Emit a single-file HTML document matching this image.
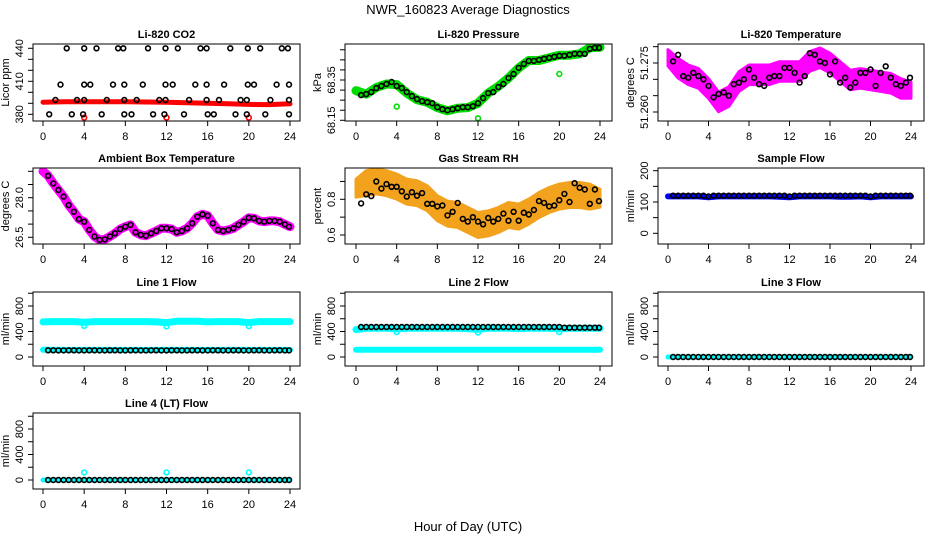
<!DOCTYPE html>
<html><head><meta charset="utf-8">
<style>
html,body{margin:0;padding:0;background:#fff;}
svg{display:block;font-family:"Liberation Sans",Arial,sans-serif;}
</style></head>
<body>
<svg id="chart" width="936" height="540" viewBox="0 0 936 540" xmlns="http://www.w3.org/2000/svg">
<text x="468" y="14" text-anchor="middle" font-size="13">NWR_160823  Average Diagnostics</text>
<text x="468" y="531" text-anchor="middle" font-size="13">Hour of Day (UTC)</text>
</svg>
<script>
// ---------- data ----------
const xTicks = [0,4,8,12,16,20,24];
const halfHours = [0.5,1,1.5,2,2.5,3,3.5,4,4.5,5,5.5,6,6.5,7,7.5,8,8.5,9,9.5,10,10.5,11,11.5,12,12.5,13,13.5,14,14.5,15,15.5,16,16.5,17,17.5,18,18.5,19,19.5,20,20.5,21,21.5,22,22.5,23,23.5,23.9];
const hours = [0,1,2,3,4,5,6,7,8,9,10,11,12,13,14,15,16,17,18,19,20,21,22,23,24];
const halfHoursFrom0 = [0,0.5,1,1.5,2,2.5,3,3.5,4,4.5,5,5.5,6,6.5,7,7.5,8,8.5,9,9.5,10,10.5,11,11.5,12,12.5,13,13.5,14,14.5,15,15.5,16,16.5,17,17.5,18,18.5,19,19.5,20,20.5,21,21.5,22,22.5,23,23.5,24];

// CO2
const co2BlackHours = [2.3,4.0,5.2,7.3,7.8,10.2,11.9,13.1,15.3,15.9,18.2,19.9,21.1,23.2,23.8,
 1.7,4.0,4.6,6.8,7.9,9.7,11.9,12.6,14.8,15.9,17.6,19.9,20.5,22.7,23.9,
 1.2,3.3,4.0,6.2,7.9,9.1,11.3,11.9,14.2,15.9,17.1,19.2,19.8,22.1,23.9,
 0.6,2.8,3.9,5.7,7.9,8.6,10.7,11.8,13.7,16.0,16.6,18.7,19.8,21.6,23.9];
const co2BlackVals = [440,440,440,440,440,440,440,440,440,440,440,440,440,440,440,
 407,407,407,407,407,407,407,407,407,407,407,407,407,407,407,
 393,393,393,393,393,393,393,393,393,393,393,393,393,393,393,
 380,380,380,380,380,380,380,380,380,380,380,380,380,380,380];
const co2RedHours = [0,2,4,6,8,10,12,14,16,18,20,22,24];
const co2RedVals = [391,391.5,391.5,391.5,391.5,391.2,391,390.5,390,389.5,389,388.8,389.5];
const co2RedOutHours = [4,12,20];
const co2RedOutVals = [377,377,377];

// Pressure
const presGreen = [68.297,68.28,68.313,68.33,68.327,68.285,68.252,68.24,68.213,68.197,68.21,68.213,68.235,68.285,68.318,68.36,68.41,68.447,68.447,68.46,68.473,68.473,68.48,68.51,68.513];
const presOutHours = [0,4,12,20];
const presOutVals = [68.297,68.218,68.16,68.38];
const presBlack = [68.275,68.28,68.29,68.31,68.32,68.33,68.34,68.32,68.31,68.29,68.27,68.255,68.245,68.24,68.235,68.215,68.205,68.2,68.205,68.21,68.215,68.215,68.22,68.235,68.26,68.285,68.29,68.315,68.33,68.36,68.38,68.41,68.43,68.445,68.445,68.45,68.455,68.46,68.465,68.47,68.47,68.475,68.48,68.48,68.48,68.505,68.51,68.51];

// Li-820 temperature
const tempCenter = [51.2766,51.2734,51.2714,51.2703,51.2672,51.2631,51.2647,51.2693,51.2714,51.2714,51.2714,51.2724,51.2724,51.2724,51.2755,51.2766,51.2750,51.2724,51.2698,51.2703,51.2698,51.2693,51.2688,51.2672,51.2667];
const tempHalfWidth = [0.0025,0.003,0.003,0.003,0.003,0.003,0.003,0.003,0.003,0.003,0.003,0.003,0.003,0.003,0.003,0.003,0.003,0.003,0.003,0.003,0.003,0.003,0.003,0.003,0.0025];
const tempBlack = [51.2755,51.2775,51.2710,51.2705,51.2720,51.2710,51.2700,51.2680,51.2645,51.2655,51.2660,51.2650,51.2685,51.2690,51.2700,51.2730,51.2705,51.2685,51.2680,51.2705,51.2710,51.2710,51.2735,51.2735,51.2720,51.2690,51.2710,51.2780,51.2775,51.2755,51.2750,51.2715,51.2755,51.2690,51.2705,51.2675,51.2690,51.2720,51.2720,51.2730,51.2680,51.2720,51.2740,51.2705,51.2685,51.2680,51.2690,51.2705];

// Ambient box temperature
const ambMagenta = [29.0,28.83,28.54,28.29,28.04,27.72,27.47,27.19,27.09,26.78,26.53,26.40,26.42,26.53,26.65,26.81,26.90,26.97,26.69,26.59,26.56,26.65,26.74,26.84,26.84,26.81,26.69,26.74,26.84,27.03,27.28,27.37,27.32,27.03,26.78,26.74,26.78,26.84,26.97,27.09,27.24,27.22,27.12,27.09,27.12,27.12,27.09,26.99,26.90];
const ambBlack = [28.83,28.54,28.29,28.04,27.72,27.47,27.19,27.09,26.78,26.53,26.40,26.42,26.53,26.65,26.81,26.90,26.97,26.69,26.59,26.56,26.65,26.74,26.84,26.84,26.81,26.69,26.74,26.84,27.03,27.28,27.37,27.32,27.03,26.78,26.74,26.78,26.84,26.97,27.09,27.24,27.22,27.12,27.09,27.12,27.12,27.09,26.99,26.90];

// Gas stream RH
const rhCenter = [0.862,0.89,0.90,0.89,0.871,0.843,0.834,0.806,0.75,0.72,0.712,0.684,0.656,0.665,0.684,0.712,0.703,0.731,0.768,0.796,0.815,0.824,0.824,0.815,0.806];
const rhHalfWidth = [0.05,0.07,0.07,0.07,0.07,0.07,0.07,0.07,0.07,0.07,0.07,0.07,0.07,0.07,0.07,0.07,0.07,0.07,0.07,0.07,0.07,0.07,0.07,0.07,0.05];
const rhBlack = [0.777,0.828,0.818,0.90,0.86,0.885,0.87,0.87,0.845,0.815,0.84,0.82,0.835,0.775,0.775,0.76,0.765,0.71,0.73,0.78,0.69,0.675,0.70,0.675,0.66,0.695,0.675,0.69,0.72,0.68,0.73,0.68,0.725,0.715,0.74,0.79,0.78,0.76,0.765,0.795,0.83,0.785,0.89,0.865,0.855,0.775,0.855,0.79];

// Sample flow
const sampleBlue = [118,118,118,118,115,118,118,118,118,118,118,117,115,118,118,118,118,117,117,118,115,118,118,118,118];
const sampleBlack = [120,120,120,120,120,120,120,118,120,120,120,120,120,120,120,120,120,120,120,120,120,120,120,118,120,120,120,120,120,120,120,120,120,120,120,120,120,120,120,118,120,120,120,120,120,120,120,120];

// Line 1 flow
const l1CyanHigh = [550,555,555,555,545,555,555,555,555,555,555,550,540,560,560,560,550,555,555,555,540,555,555,555,555];
const l1CyanLow = [115,115,112,112,112,112,112,112,112,112,112,112,112,112,112,112,112,112,112,112,112,112,112,112,112];
const l1OutHours = [4,12,20];
const l1OutVals = [490,480,485];
const l1Black = [105,105,104,104,105,105,104,104,105,105,104,104,105,105,104,104,105,105,104,104,105,105,104,104,105,105,104,104,105,105,104,104,105,105,104,104,105,105,104,104,105,105,104,104,105,105,104,104];

// Line 2 flow
const l2CyanHigh = [430,450,450,450,440,450,450,450,450,450,450,445,435,450,450,450,445,450,450,450,440,450,450,450,450];
const l2CyanLow = [114,114,114,114,114,114,114,114,114,114,114,114,114,114,114,114,114,114,114,114,114,114,114,114,114];
const l2OutHours = [4,12,20];
const l2OutVals = [390,385,390];
const l2Black = [470,470,470,470,470,470,470,470,470,470,470,470,470,470,470,470,470,470,470,470,470,470,470,470,470,470,470,470,470,470,470,470,470,470,470,470,470,470,470,470,460,460,460,460,460,460,460,460];

// Line 3 flow
const l3Cyan = [0,0,0,0,0,0,0,0,0,0,0,0,0,0,0,0,0,0,0,0,0,0,0,0,0];
const l3Black = [0,0,0,0,0,0,0,0,0,0,0,0,0,0,0,0,0,0,0,0,0,0,0,0,0,0,0,0,0,0,0,0,0,0,0,0,0,0,0,0,0,0,0,0,0,0,0,0];

// Line 4 flow
const l4Cyan = [0,0,0,0,0,0,0,0,0,0,0,0,0,0,0,0,0,0,0,0,0,0,0,0,0];
const l4OutHours = [4,12,20];
const l4OutVals = [120,120,120];
const l4Black = [0,0,0,0,0,0,0,0,0,0,0,0,0,0,0,0,0,0,0,0,0,0,0,0,0,0,0,0,0,0,0,0,0,0,0,0,0,0,0,0,0,0,0,0,0,0,0,0];

// ---------- drawing ----------
const NS = 'http://www.w3.org/2000/svg';
const svg = document.getElementById('chart');
function mk(tag, attrs, parent){
  const e = document.createElementNS(NS, tag);
  for (const k in attrs) e.setAttribute(k, attrs[k]);
  (parent||svg).appendChild(e);
  return e;
}
const cols = [{bx0:33,bx1:300,h0:43,h24:290},{bx0:345,bx1:612,h0:356,h24:600},{bx0:658,bx1:924,h0:668,h24:911}];
const rows = [{by0:44,by1:121},{by0:168,by1:244},{by0:292,by1:366},{by0:413,by1:489}];

function makePanel(name, title, ylab, c, r, v1, p1, v2, p2, yTicks, yLabels, fmt){
  const col = cols[c], row = rows[r];
  const g = mk('g', {});
  
  
  const X = h => col.h0 + (h/24)*(col.h24-col.h0);
  const Y = v => p1 + (v-v1)*(p2-p1)/(v2-v1);
  const clipId = name + '-clip';
  const cp = mk('clipPath', {id: clipId}, g);
  mk('rect', {x: col.bx0, y: row.by0, width: col.bx1-col.bx0, height: row.by1-row.by0}, cp);
  const plot = mk('g', {'clip-path': 'url(#'+clipId+')'}, g);
  
  
  // title
  const t = mk('text', {x:(col.bx0+col.bx1)/2, y:row.by0-6, 'text-anchor':'middle', 'font-size':'11', 'font-weight':'bold'}, g);
  t.textContent = title;
  
  
  // box
  const box = mk('rect', {x:col.bx0, y:row.by0, width:col.bx1-col.bx0, height:row.by1-row.by0, fill:'none', stroke:'#000', 'stroke-width':'1'}, g);
  
  
  // x axis
  const xa = mk('g', {}, g);
  
  
  mk('line', {x1:X(xTicks[0]), x2:X(xTicks[xTicks.length-1]), y1:row.by1, y2:row.by1, stroke:'#000'}, xa);
  xTicks.forEach(h => {
    mk('line', {x1:X(h), x2:X(h), y1:row.by1, y2:row.by1+5, stroke:'#000'}, xa);
    const tx = mk('text', {x:X(h), y:row.by1+19, 'text-anchor':'middle', 'font-size':'11'}, xa);
    tx.textContent = h;
  });
  // y axis
  const ya = mk('g', {}, g);
  
  
  mk('line', {x1:col.bx0, x2:col.bx0, y1:Y(yTicks[0]), y2:Y(yTicks[yTicks.length-1]), stroke:'#000'}, ya);
  yTicks.forEach(v => mk('line', {x1:col.bx0-5, x2:col.bx0, y1:Y(v), y2:Y(v), stroke:'#000'}, ya));
  yLabels.forEach(v => {
    const lx = col.bx0-10, ly = Y(v);
    const tl = mk('text', {x:lx, y:ly, 'text-anchor':'middle', 'font-size':'11', transform:'rotate(-90 '+lx+' '+ly+')'}, ya);
    tl.textContent = fmt(v);
  });
  const yt = mk('text', {x:col.bx0-24, y:(row.by0+row.by1)/2, 'text-anchor':'middle', 'font-size':'11', transform:'rotate(-90 '+(col.bx0-24)+' '+((row.by0+row.by1)/2)+')'}, g);
  yt.textContent = ylab;
  
  
  return {X, Y, plot};
}

function line(p, xs, ys, color, w, name){
  const d = xs.map((h,i) => (i?'L':'M') + p.X(h).toFixed(1) + ' ' + p.Y(ys[i]).toFixed(1)).join(' ');
  const e = mk('path', {d, fill:'none', stroke:color, 'stroke-width':w, 'stroke-linecap':'round', 'stroke-linejoin':'round'}, p.plot);
  
  
}
function band(p, xs, center, hw, color, name){
  const up = xs.map((h,i) => p.X(h).toFixed(1)+','+p.Y(center[i]+hw[i]).toFixed(1));
  const lo = xs.map((h,i) => p.X(h).toFixed(1)+','+p.Y(center[i]-hw[i]).toFixed(1)).reverse();
  const e = mk('polygon', {points: up.concat(lo).join(' '), fill:color, stroke:color, 'stroke-width':'3', 'stroke-linejoin':'round'}, p.plot);
  
  
}
function points(p, xs, ys, color, name, r, sw){
  const g = mk('g', {}, p.plot);
  
  
  xs.forEach((h,i) => {
    const c = mk('circle', {cx:p.X(h).toFixed(1), cy:p.Y(ys[i]).toFixed(1), r:r||2.4, fill:'none', stroke:color, 'stroke-width':sw||1.6}, g);
    
    
  });
}
const f0 = v => String(v);
const fFix = n => v => v.toFixed(n);

// Panel 1: CO2
let p = makePanel('co2-panel','Li-820 CO2','Licor ppm',0,0,440,48.3,380,114.3,[380,390,400,410,420,430,440],[380,410,440],f0);
line(p, co2RedHours, co2RedVals, '#ff0000', 5, 'co2-red-series');
points(p, co2RedOutHours, co2RedOutVals, '#ff0000', 'co2-red-outliers');
points(p, co2BlackHours, co2BlackVals, '#000', 'co2-black-series');

// Panel 2: Pressure
p = makePanel('pressure-panel','Li-820 Pressure','kPa',1,0,68.15,120.3,68.35,80,[68.15,68.2,68.25,68.3,68.35,68.4,68.45,68.5],[68.15,68.35],fFix(2));
line(p, hours, presGreen, '#00dd00', 9, 'pressure-green-series');
points(p, presOutHours, presOutVals, '#00dd00', 'pressure-green-outliers');
points(p, halfHours, presBlack, '#000', 'pressure-black-series');

// Panel 3: Li-820 Temperature
p = makePanel('li820-temp-panel','Li-820 Temperature','degrees C',2,0,51.260,112,51.275,63,[51.26,51.265,51.27,51.275,51.28],[51.26,51.275],fFix(3));
band(p, hours, tempCenter, tempHalfWidth, '#ff00ff', 'li820-temp-magenta-series');
points(p, halfHours, tempBlack, '#000', 'li820-temp-black-series');

// Panel 4: Ambient box temperature
p = makePanel('ambient-temp-panel','Ambient Box Temperature','degrees C',0,1,28.0,197.7,26.5,237.3,[26.5,27,27.5,28,28.5,29],[26.5,28.0],fFix(1));
line(p, halfHoursFrom0, ambMagenta, '#ff00ff', 9, 'ambient-temp-magenta-series');
points(p, halfHours, ambBlack, '#000', 'ambient-temp-black-series');

// Panel 5: Gas stream RH
p = makePanel('rh-panel','Gas Stream RH','percent',1,1,0.8,199.3,0.6,235,[0.6,0.7,0.8,0.9],[0.6,0.8],fFix(1));
band(p, hours, rhCenter, rhHalfWidth, '#f2a21c', 'rh-orange-series');
points(p, halfHours, rhBlack, '#000', 'rh-black-series');

// Panel 6: Sample flow
p = makePanel('sample-flow-panel','Sample Flow','ml/min',2,1,0,233.3,200,170.7,[0,50,100,150,200],[0,100,200],f0);
line(p, hours, sampleBlue, '#0000ff', 6, 'sample-flow-blue-series');
points(p, halfHours, sampleBlack, '#000', 'sample-flow-black-series');

// Panel 7: Line 1
p = makePanel('line1-flow-panel','Line 1 Flow','ml/min',0,2,0,357,800,306,[0,200,400,600,800,1000],[0,400,800],f0);
line(p, hours, l1CyanHigh, '#00ffff', 7, 'line1-cyan-high-series');
line(p, hours, l1CyanLow, '#00ffff', 6, 'line1-cyan-low-series');
points(p, l1OutHours, l1OutVals, '#00ffff', 'line1-cyan-outliers');
points(p, halfHours, l1Black, '#000', 'line1-black-series');

// Panel 8: Line 2
p = makePanel('line2-flow-panel','Line 2 Flow','ml/min',1,2,0,357,800,306,[0,200,400,600,800,1000],[0,400,800],f0);
line(p, hours, l2CyanHigh, '#00ffff', 7, 'line2-cyan-high-series');
line(p, hours, l2CyanLow, '#00ffff', 6, 'line2-cyan-low-series');
points(p, l2OutHours, l2OutVals, '#00ffff', 'line2-cyan-outliers');
points(p, halfHours, l2Black, '#000', 'line2-black-series');

// Panel 9: Line 3
p = makePanel('line3-flow-panel','Line 3 Flow','ml/min',2,2,0,357,800,306,[0,200,400,600,800,1000],[0,400,800],f0);
line(p, hours, l3Cyan, '#00ffff', 5, 'line3-cyan-series');
points(p, halfHours, l3Black, '#000', 'line3-black-series');

// Panel 10: Line 4
p = makePanel('line4-flow-panel','Line 4 (LT) Flow','ml/min',0,3,0,480,800,429,[0,200,400,600,800,1000],[0,400,800],f0);
line(p, hours, l4Cyan, '#00ffff', 5, 'line4-cyan-series');
points(p, l4OutHours, l4OutVals, '#00ffff', 'line4-cyan-outliers');
points(p, halfHours, l4Black, '#000', 'line4-black-series');
</script>
</body></html>
